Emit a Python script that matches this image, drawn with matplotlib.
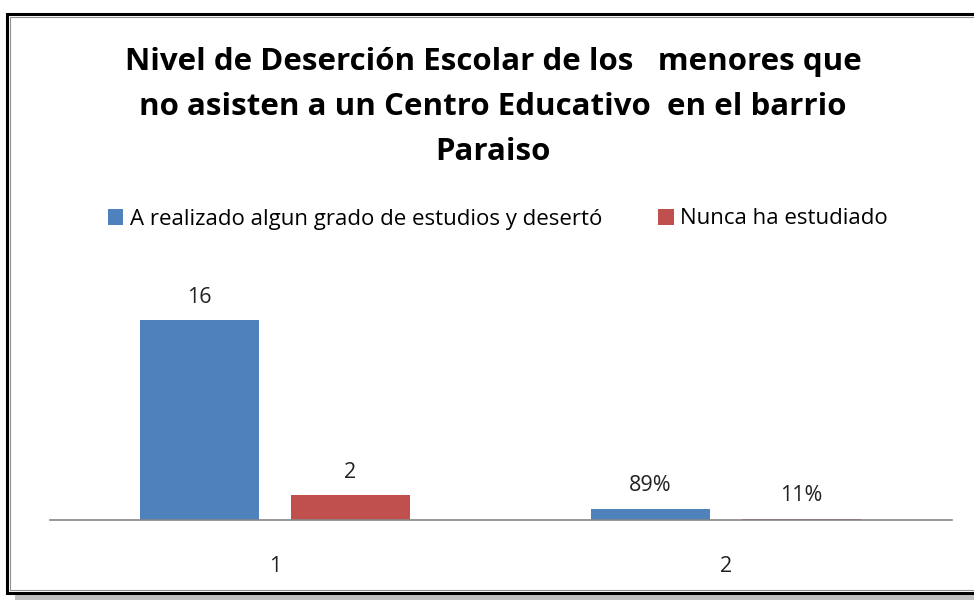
import numpy as np
import matplotlib
matplotlib.use("Agg")
import matplotlib.pyplot as plt
from matplotlib.patches import Rectangle

# ----------------------------------------
# data
# ----------------------------------------
categories = ["1", "2"]
series_names = ["A realizado algun grado de estudios y desertó", "Nunca ha estudiado"]
estudio_desertó = [16, 0.89]
nunca_estudio = [2, 0.11]
labels_desertó = ["16", "89%"]
labels_nunca = ["2", "11%"]

title = ("Nivel de Deserción Escolar de los   menores que\n"
         "no asisten a un Centro Educativo  en el barrio\n"
         "Paraiso")

blue = "#4F81BD"
red = "#C0504D"

plt.rcParams['font.family'] = ['Open Sans', 'DejaVu Sans']

fig = plt.figure(figsize=(9.74, 6), dpi=100)

# frame with shadow, like the pasted office chart
fig.patches.append(Rectangle((15 / 974, 0), 1, 7 / 600, transform=fig.transFigure,
                             facecolor="#c0c0c0", edgecolor="none", zorder=-3))
fig.patches.append(Rectangle((7 / 974, 7 / 600), 1, 579 / 600, transform=fig.transFigure,
                             facecolor="white", edgecolor="black", linewidth=2.2, zorder=-2))
fig.patches.append(Rectangle((10 / 974, 10 / 600), 1, 573 / 600, transform=fig.transFigure,
                             facecolor="none", edgecolor="#909090", linewidth=0.8, zorder=-1))

ax = fig.add_axes([49.5 / 974, 80 / 600, 902 / 974, 250 / 600])
ax.set_facecolor("none")

x = np.arange(len(categories))
w = 0.264
off = 0.167
b1 = ax.bar(x - off, estudio_desertó, w, color=blue, label=series_names[0])
b2 = ax.bar(x + off, nunca_estudio, w, color=red, label=series_names[1])

for rects, labs in ((b1, labels_desertó), (b2, labels_nunca)):
    for r, lab in zip(rects, labs):
        ax.annotate(lab, (r.get_x() + r.get_width() / 2, r.get_height()),
                    xytext=(0, 16.5), textcoords="offset points",
                    ha="center", va="center", fontsize=15.5, color="#222222")

ax.set_xlim(-0.5, 1.5)
ax.set_ylim(0, 20)
ax.set_xticks(x)
ax.set_xticklabels(categories, fontsize=15.5, color="#222222")
ax.tick_params(axis="x", length=0, pad=26)
ax.set_yticks([])
for s in ("top", "right", "left"):
    ax.spines[s].set_visible(False)
ax.spines["bottom"].set_color("#868686")
ax.spines["bottom"].set_linewidth(1.2)

fig.text(493 / 974, 1 - 107 / 600, title, ha="center", va="center",
         fontsize=22.5, fontweight="bold", linespacing=1.66)

fig.legend(handles=[b1, b2], loc="center", bbox_to_anchor=(498 / 974, 1 - 219 / 600),
           ncol=2, frameon=False, fontsize=16, handlelength=0.7, handleheight=0.7,
           handletextpad=0.3, columnspacing=2.5)

fig.savefig("out.png", dpi=100)
